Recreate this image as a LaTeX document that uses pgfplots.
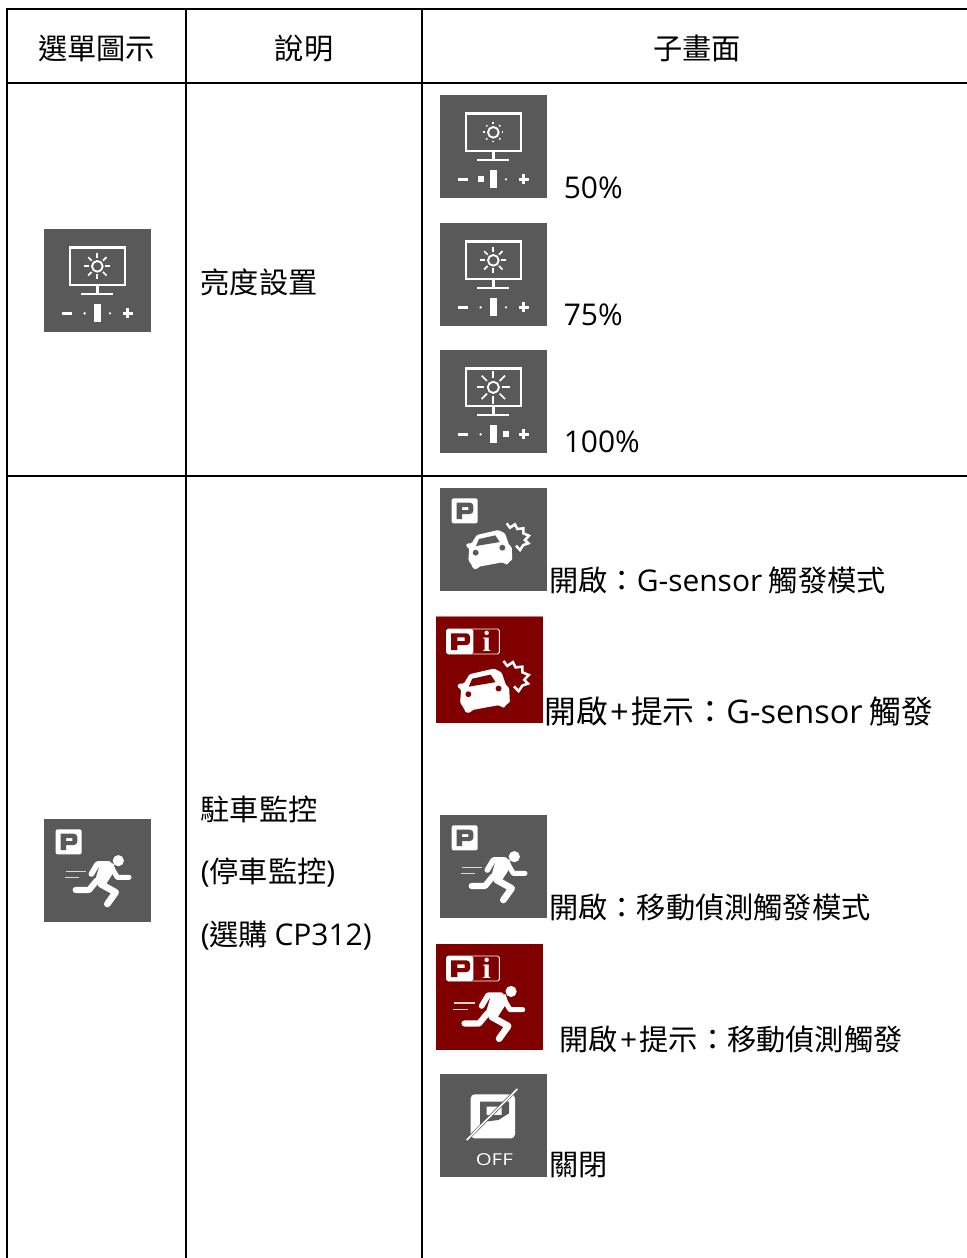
\documentclass[border=0pt]{standalone}
\usepackage{fontspec}
\usepackage{pgfplots}
\pgfplotsset{compat=1.18}
\setmainfont{Noto Sans CJK TC}
\newfontfamily\latf[Scale=1.025]{Open Sans}
\newcommand\lat[1]{{\latf #1}}
\definecolor{iconG}{HTML}{595959}
\definecolor{iconR}{HTML}{800000}
\tikzset{tx/.style={inner sep=0pt,font=\fontsize{21.9}{26}\selectfont},
 txb/.style={inner sep=0pt,font=\fontsize{23.8}{28}\selectfont}}
\def\Z(#1,#2){(axis cs:\ox+#1/\zs,\oy+#2/\zs)}
\newcommand\setO[3]{\def\ox{#1}\def\oy{#2}\def\zs{#3}}
\newcommand\badgeG{%
 \fill[white,rounded corners=1.5pt] \Z(35,31) rectangle \Z(113,106);
 \fill[\bgc,even odd rule] \Z(50,44)[rounded corners=2.6pt]--\Z(100,44)--\Z(100,78)[sharp corners]--\Z(66,78)--\Z(66,93)--\Z(50,93)--cycle \Z(66,57) rectangle \Z(85,66);
}
\newcommand\badgeR{%
 \draw[white,line width=0.7pt,rounded corners=1.2pt] \Z(32,36) rectangle \Z(190,111);
 \fill[white,rounded corners=1.2pt] \Z(32,36) rectangle \Z(112,111);
 \fill[\bgc,even odd rule] \Z(45,49)[rounded corners=2.6pt]--\Z(102,49)--\Z(102,84)[sharp corners]--\Z(64,84)--\Z(64,99)--\Z(45,99)--cycle \Z(64,61) rectangle \Z(86,72);
 \node[text=white,inner sep=0pt] at \Z(152,73) {\fontsize{22}{22}\selectfont\fontspec{Liberation Serif}\bfseries i};
}
\newcommand\car{%
 \fill[white,rounded corners=1pt] \Z(110,141)--\Z(175,126)--\Z(195,136)--\Z(207,171)--\Z(215,176)--\Z(217,216)--\Z(207,221)--\Z(202,231)--\Z(187,223)--\Z(117,236)--\Z(112,243)--\Z(100,243)--\Z(95,231)--\Z(85,216)--\Z(88,181)--\Z(78,176)--\Z(80,166)--\Z(95,166)--cycle;
 \fill[\bgc] \Z(117,153)--\Z(166,142)--\Z(179,162)--\Z(108,174)--cycle;
 \fill[\bgc] \Z(107,194) circle[radius=2.2pt];
 \fill[\bgc] \Z(187,179) circle[radius=2.2pt];
 \draw[white,line width=1.9pt,line join=miter] \Z(200,106)--\Z(210,119)--\Z(225,109)--\Z(232,123)--\Z(250,121)--\Z(250,136)--\Z(267,143)--\Z(255,156)--\Z(265,166)--\Z(250,171)--\Z(240,186)--\Z(228,173);
}
\newcommand\runner{%
 \fill[white] \Z(223,125) circle[radius=4.2pt];
 \fill[white] \Z(168,135)--\Z(208,133)--\Z(214,152)--\Z(180,205)--\Z(152,188)--cycle;
 \draw[white,line width=4.2pt,line cap=round,line join=round] \Z(195,135)--\Z(160,135)--\Z(142,165);
 \draw[white,line width=3.8pt,line cap=round,line join=round] \Z(205,150)--\Z(220,175)--\Z(255,175);
 \draw[white,line width=4.6pt,line cap=round,line join=round] \Z(158,185)--\Z(135,213)--\Z(95,213);
 \draw[white,line width=5pt,line cap=round,line join=round] \Z(170,195)--\Z(215,220)--\Z(190,255);
 \draw[white!85!black,line width=1pt] \Z(65,157)--\Z(125,157);
 \draw[white!85!black,line width=1pt] \Z(62,175)--\Z(105,175);
}
\newcommand\bright[6]{%
 \setO{#1}{#2}{3}%
 \draw[white,line width=1.8pt] \Z(78,55) rectangle \Z(243,168);
 \draw[white,line width=1.9pt] \Z(160,168)--\Z(160,195);
 \draw[white,line width=1.9pt] \Z(111,195)--\Z(207,195);
 \draw[white,line width=1.4pt] \Z(160,112) circle[radius=#5pt];
 \foreach \a in {0,45,...,315}{%
   \pgfmathsetmacro\axa{#1+160/3+#3*cos(\a)}\pgfmathsetmacro\aya{#2+112/3+#3*sin(\a)}%
   \pgfmathsetmacro\axb{#1+160/3+#4*cos(\a)}\pgfmathsetmacro\ayb{#2+112/3+#4*sin(\a)}%
   \draw[white,line width=1.3pt] (axis cs:\axa,\aya)--(axis cs:\axb,\ayb);}
 \draw[white,line width=2.4pt] \Z(55,253)--\Z(83,253);
 \fill[white] \Z(151,225) rectangle \Z(170,280);
 \ifnum#6=1 \fill[white] \Z(113,244) rectangle \Z(131,262);\else\fill[white] \Z(122,253) circle[radius=1pt];\fi
 \ifnum#6=3 \fill[white] \Z(189,244) rectangle \Z(207,262);\else\fill[white] \Z(198,253) circle[radius=1pt];\fi
 \draw[white,line width=2.4pt] \Z(236,253)--\Z(266,253);
 \draw[white,line width=2.4pt] \Z(251,238)--\Z(251,268);
}
\begin{document}
\begin{tikzpicture}
\begin{axis}[scale only axis,width=725.25pt,height=943.5pt,xmin=0,xmax=967,ymin=0,ymax=1258,y dir=reverse,hide axis,clip=true]
\addplot[fill=white,draw=none] coordinates {(0,0)(967,0)(967,1258)(0,1258)} --cycle;
\addplot[black,line width=1.4pt] coordinates {(7,1258)(7,9)(967,9)};
\addplot[black,line width=1.4pt] coordinates {(7,83)(967,83)};
\addplot[black,line width=1.4pt] coordinates {(7,476)(967,476)};
\addplot[black,line width=1.4pt] coordinates {(186,9)(186,1258)};
\addplot[black,line width=1.4pt] coordinates {(422,9)(422,1258)};
\addplot[fill=iconG,draw=none] coordinates {(44,229)(151,229)(151,332)(44,332)} --cycle;
\addplot[fill=iconG,draw=none] coordinates {(44,819)(151,819)(151,922)(44,922)} --cycle;
\addplot[fill=iconG,draw=none] coordinates {(440,95)(547,95)(547,198)(440,198)} --cycle;
\addplot[fill=iconG,draw=none] coordinates {(440,223)(547,223)(547,326)(440,326)} --cycle;
\addplot[fill=iconG,draw=none] coordinates {(440,350)(547,350)(547,453)(440,453)} --cycle;
\addplot[fill=iconG,draw=none] coordinates {(440,488)(547,488)(547,591)(440,591)} --cycle;
\addplot[fill=iconR,draw=none] coordinates {(436,617)(543,617)(543,723)(436,723)} --cycle;
\addplot[fill=iconG,draw=none] coordinates {(440,815)(547,815)(547,918)(440,918)} --cycle;
\addplot[fill=iconR,draw=none] coordinates {(436,944)(543,944)(543,1050)(436,1050)} --cycle;
\addplot[fill=iconG,draw=none] coordinates {(440,1074)(547,1074)(547,1177)(440,1177)} --cycle;
\addplot[draw=iconR!50!white,line width=0.5pt] coordinates {(436,616)(543,616)};
\pgfplotsextra{%
 \bright{44}{229}{8}{13}{4}{2}%
 \bright{440}{95}{8.5}{10}{4}{1}%
 \bright{440}{223}{8}{13}{4}{2}%
 \bright{440}{350}{9}{16.5}{4.2}{3}%
 \def\bgc{iconG}\setO{440}{488}{3}\badgeG\car
 \setO{440}{815}{3}\badgeG\runner
 \setO{44}{819}{3}\badgeG\runner
 \def\bgc{iconR}\setO{436}{617}{3}\badgeR\setO{428}{621}{2.65}\car
 \setO{436}{944}{3}\badgeR\setO{430}{946}{2.75}\runner
 \def\bgc{iconG}\setO{440}{1074}{3}%
 \fill[white,rounded corners=3pt] \Z(92,61) rectangle \Z(225,193);
 \fill[iconG,even odd rule] \Z(120,83)--\Z(207,83)--\Z(207,118)--\Z(175,138)--\Z(135,143)--\Z(120,163)--cycle \Z(140,98) rectangle \Z(185,123);
 \draw[iconG,line width=2.2pt] \Z(80,198)--\Z(232,45);
 \draw[white,line width=1.2pt] \Z(80,198)--\Z(232,45);
 \node[text=white,inner sep=0pt] at \Z(163,258) {\fontsize{12}{12}\selectfont\latf\scalebox{1.25}[1]{OFF}};
}
\node[tx] at (axis cs:96.5,48.5) {選單圖示};
\node[tx] at (axis cs:304,48.5) {說明};
\node[tx] at (axis cs:697,48) {子畫面};
\node[tx,anchor=west] at (axis cs:200.5,282) {亮度設置};
\node[tx,anchor=west] at (axis cs:200.5,809) {駐車監控};
\node[tx,anchor=west] at (axis cs:200.5,873) {\lat{(}停車監控\lat{)}};
\node[tx,anchor=west] at (axis cs:200.5,936) {\lat{(}選購 \lat{CP312)}};
\node[tx,anchor=west] at (axis cs:563.5,188) {\lat{50\%}};
\node[tx,anchor=west] at (axis cs:563.5,315) {\lat{75\%}};
\node[tx,anchor=west] at (axis cs:563.5,442) {\lat{100\%}};
\node[tx,anchor=west] at (axis cs:549,580) {開啟：\lat{G-sensor} 觸發模式};
\node[txb,anchor=west] at (axis cs:544,711) {開啟\makebox[17.6pt][c]{\lat{+}}提示：\lat{G-sensor} 觸發};
\node[tx,anchor=west] at (axis cs:549,907) {開啟：移動偵測觸發模式};
\node[tx,anchor=west] at (axis cs:559,1039) {開啟\makebox[16.5pt][c]{\lat{+}}提示：移動偵測觸發};
\node[tx,anchor=west] at (axis cs:549,1165.5) {關閉};
\end{axis}
\end{tikzpicture}
\end{document}
